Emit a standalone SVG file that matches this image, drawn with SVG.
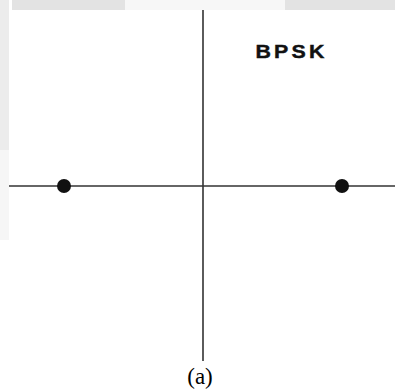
<svg xmlns="http://www.w3.org/2000/svg" width="395" height="389" viewBox="0 0 395 389">
<style>
.axis{stroke:#333;stroke-width:1.6;fill:none}
.pt{fill:#111}
</style>
<rect width="395" height="389" fill="#fff"/>
<g id="background">
<rect x="12" y="0" width="113" height="10" fill="#e3e3e3"/>
<rect x="125" y="0" width="160" height="10" fill="#f7f7f7"/>
<rect x="285" y="0" width="110" height="10" fill="#e3e3e3"/>
<rect x="0" y="0" width="9" height="150" fill="#ececec"/>
<rect x="0" y="150" width="9" height="90" fill="#f6f6f6"/>
</g>
<g id="connectors">
<line class="axis" x1="203" y1="10" x2="203" y2="361"/>
<line class="axis" x1="9" y1="186" x2="395" y2="186"/>
</g>
<g id="point-left"><circle class="pt" cx="64" cy="186" r="7"/></g>
<g id="point-right"><circle class="pt" cx="342" cy="186" r="7"/></g>
<g id="title"><text transform="translate(255.5,57.7) scale(1.22,1)" font-family="Liberation Sans, Arial, sans-serif" font-weight="bold" font-size="17.5" letter-spacing="2.6" fill="#111" stroke="#111" stroke-width="0.4">BPSK</text></g>
<g id="caption"><text x="200" y="384" text-anchor="middle" font-family="Liberation Serif, Times New Roman, serif" font-size="23" fill="#000">(a)</text></g>
</svg>
